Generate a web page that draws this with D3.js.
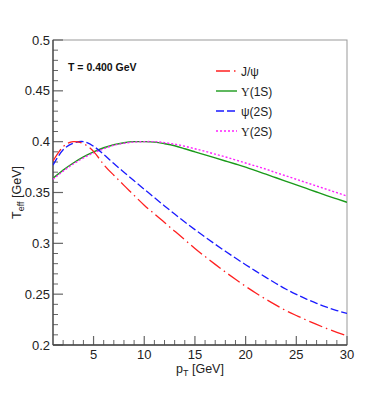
<!DOCTYPE html>
<html>
<head>
<meta charset="utf-8">
<script src="https://cdn.jsdelivr.net/npm/d3@7"></script>
<style>
html,body{margin:0;padding:0;background:#fff;}
svg{display:block;font-family:"Liberation Sans",Arial,Helvetica,sans-serif;}
</style>
</head>
<body>
<svg id="chart" width="378" height="402"></svg>
<script>
// ---- data ----
const pT = [1,2,3,4,5,6,7,8,9,10,11,12,13,14,15,16,17,18,19,20,21,22,23,24,25,26,27,28,29,30];
const jpsi = [0.381,0.395,0.400,0.398,0.3905,0.3775,0.367,0.357,0.3472,0.3375,0.329,0.3205,0.312,0.3035,0.295,0.287,0.2793,0.2718,0.2646,0.2577,0.2512,0.245,0.2392,0.2337,0.229,0.2245,0.2202,0.2162,0.2125,0.209];
const upsilon1S = [0.364,0.372,0.379,0.385,0.390,0.394,0.397,0.399,0.400,0.400,0.3995,0.398,0.396,0.393,0.390,0.387,0.384,0.381,0.378,0.375,0.3715,0.368,0.3645,0.361,0.3575,0.354,0.3505,0.347,0.3437,0.3404];
const psi2S = [0.377,0.392,0.3985,0.400,0.3955,0.3875,0.3785,0.370,0.3615,0.3532,0.345,0.3368,0.3288,0.321,0.3135,0.3062,0.2991,0.2922,0.2855,0.279,0.2727,0.2665,0.2605,0.2548,0.2498,0.2452,0.241,0.2372,0.2339,0.231];
const upsilon2S = [0.363,0.371,0.378,0.384,0.389,0.393,0.3965,0.3985,0.3996,0.400,0.400,0.399,0.3975,0.3955,0.393,0.3905,0.3877,0.385,0.382,0.379,0.376,0.373,0.3695,0.3663,0.363,0.3597,0.3564,0.3531,0.3498,0.3465];
const xTicks = [5,10,15,20,25,30];
const yTicks = [0.2,0.25,0.3,0.35,0.4,0.45,0.5];
const seriesNames = ["J/ψ","Υ(1S)","ψ(2S)","Υ(2S)"];
const annotation = "T = 0.400 GeV";

// ---- layout ----
const svg = d3.select("#chart");
const L = 53, R = 347, T = 40, B = 345;
const x = d3.scaleLinear().domain([1,30]).range([L,R]);
const y = d3.scaleLinear().domain([0.2,0.5]).range([B,T]);

// frame (top/right)
svg.append("rect").attr("x",L).attr("y",T).attr("width",R-L).attr("height",B-T)
  .attr("fill","none").attr("stroke","#999").attr("stroke-width",1);

const axisCol = "#666";
const xMinor = d3.range(2,30,1).filter(v=>v%5!==0);
svg.append("g").selectAll("line").data(xMinor).join("line")
  .attr("x1",d=>x(d)).attr("x2",d=>x(d)).attr("y1",B).attr("y2",B-5)
  .attr("stroke",axisCol).attr("stroke-width",1);
svg.append("g").selectAll("line").data(xTicks).join("line")
  .attr("x1",d=>x(d)).attr("x2",d=>x(d)).attr("y1",B).attr("y2",B-9)
  .attr("stroke",axisCol).attr("stroke-width",1.2);
const yMinor = d3.range(0.21,0.5,0.01).filter(v=>Math.abs(v*20-Math.round(v*20))>1e-6);
svg.append("g").selectAll("line").data(yMinor).join("line")
  .attr("x1",L).attr("x2",L+5).attr("y1",d=>y(d)).attr("y2",d=>y(d))
  .attr("stroke",axisCol).attr("stroke-width",1);
svg.append("g").selectAll("line").data(yTicks).join("line")
  .attr("x1",L).attr("x2",L+10).attr("y1",d=>y(d)).attr("y2",d=>y(d))
  .attr("stroke",axisCol).attr("stroke-width",1.2);
svg.append("line").attr("x1",L).attr("x2",R).attr("y1",B).attr("y2",B).attr("stroke","#444").attr("stroke-width",1.3);
svg.append("line").attr("x1",L).attr("x2",L).attr("y1",T).attr("y2",B).attr("stroke","#444").attr("stroke-width",1.3);

// tick labels
svg.append("g").selectAll("text").data(xTicks).join("text")
  .attr("x",d=>x(d)).attr("y",358.5).attr("text-anchor","middle")
  .attr("font-size",13).attr("fill","#222").text(d=>d);
svg.append("g").selectAll("text").data(yTicks).join("text")
  .attr("x",50).attr("y",d=>y(d)+4.5).attr("text-anchor","end")
  .attr("font-size",13).attr("fill","#222").text(d=>d3.format("")(d));

// axis titles
const xt = svg.append("text").attr("x",(L+R)/2).attr("y",373).attr("text-anchor","middle")
  .attr("font-size",12.5).attr("fill","#222");
xt.append("tspan").text("p");
xt.append("tspan").attr("font-size",9).attr("dy",3).text("T");
xt.append("tspan").attr("dy",-3).text(" [GeV]");

const yt = svg.append("text").attr("transform",`translate(21,${(T+B)/2}) rotate(-90)`)
  .attr("text-anchor","middle").attr("font-size",12.5).attr("fill","#222");
yt.append("tspan").text("T");
yt.append("tspan").attr("font-size",9).attr("dy",3).text("eff");
yt.append("tspan").attr("dy",-3).text(" [GeV]");

// curves
const series = [
  {name:seriesNames[0], vals:jpsi, color:"#ff2020", dash:"14,4,1.5,4", w:1.3},
  {name:seriesNames[1], vals:upsilon1S, color:"#1a9a1a", dash:null, w:1.4},
  {name:seriesNames[2], vals:psi2S, color:"#1a1aff", dash:"8,3", w:1.3},
  {name:seriesNames[3], vals:upsilon2S, color:"#ff20ff", dash:"2,2", w:1.4}
];
const line = d3.line().x(d=>x(d[0])).y(d=>y(d[1])).curve(d3.curveNatural);
svg.append("clipPath").attr("id","clip").append("rect")
  .attr("x",L).attr("y",T).attr("width",R-L).attr("height",B-T);
const cg = svg.append("g").attr("clip-path","url(#clip)");
[1,3,2,0].forEach(i=>{
  const s = series[i];
  cg.append("path").datum(pT.map((p,j)=>[p,s.vals[j]]))
    .attr("d",line).attr("fill","none").attr("stroke",s.color)
    .attr("stroke-width",s.w).attr("stroke-dasharray",s.dash);
});

// annotation
svg.append("text").attr("x",68).attr("y",70.5).attr("font-size",10.5).attr("font-weight","bold")
  .attr("fill","#111").text(annotation);

// legend
const lg = svg.append("g");
series.forEach((s,i)=>{
  const yy = 71 + i*20;
  lg.append("line").attr("x1",216).attr("x2",237).attr("y1",yy).attr("y2",yy)
    .attr("stroke",s.color).attr("stroke-width",s.w).attr("stroke-dasharray",s.dash);
  const t = lg.append("text").attr("x",241).attr("y",yy+4.5).attr("font-size",12).attr("fill","#222");
  if (s.name.startsWith("Υ")) {
    t.append("tspan").attr("font-family","Liberation Serif, DejaVu Serif, serif").text("Υ");
    t.append("tspan").text(s.name.slice(1));
  } else t.text(s.name);
});
</script>
</body>
</html>
